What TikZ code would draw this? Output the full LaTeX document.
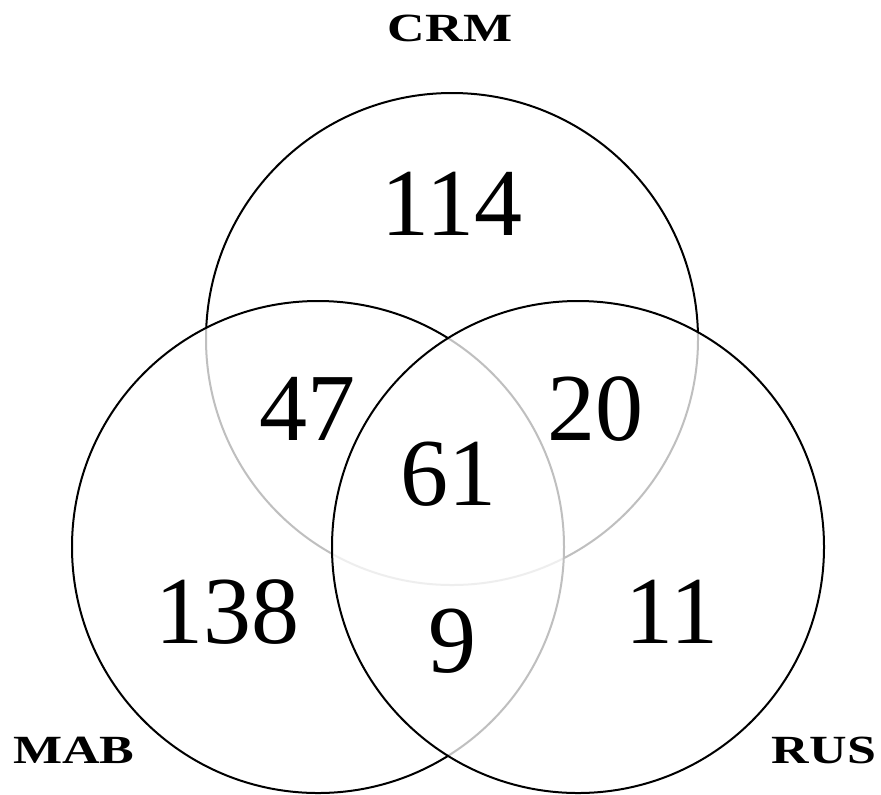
\documentclass[tikz,border=0pt]{standalone}
\usepackage{fontspec}
\usepackage{graphicx}
\setmainfont{Liberation Serif}
\tikzset{
  setcircle/.style={circle, draw=black, line width=1.5pt, fill=white, fill opacity=0.75, text opacity=1, inner sep=0pt, minimum size=369pt},
  numlabel/.style={anchor=base, inner sep=0pt, font=\fontsize{72}{80}\selectfont},
  setname/.style={anchor=base, inner sep=0pt, font=\fontsize{30}{34}\selectfont\bfseries}
}
\begin{document}
\begin{tikzpicture}[x=0.75pt, y=-0.75pt]
\useasboundingbox[fill=white] (0,0) rectangle (881,794);
\node[setcircle] (crm) at (452,339) {};
\node[setcircle] (mab) at (318,547) {};
\node[setcircle] (rus) at (578,547) {};
\node[setname] (lcrm) at (450,41) {\scalebox{1.3}[1]{CRM}};
\node[setname] (lmab) at (74,763) {\scalebox{1.3}[1]{MAB}};
\node[setname] (lrus) at (824,763) {\scalebox{1.3}[1]{RUS}};
\node[numlabel] (n114) at (452,235) {114};
\node[numlabel] (n47) at (307,440) {47};
\node[numlabel] (n20) at (595,440) {20};
\node[numlabel] (n61) at (448,505) {61};
\node[numlabel] (n138) at (227,643) {138};
\node[numlabel] (n9) at (452,672) {9};
\node[numlabel] (n11) at (672,643) {11};
\end{tikzpicture}
\end{document}
